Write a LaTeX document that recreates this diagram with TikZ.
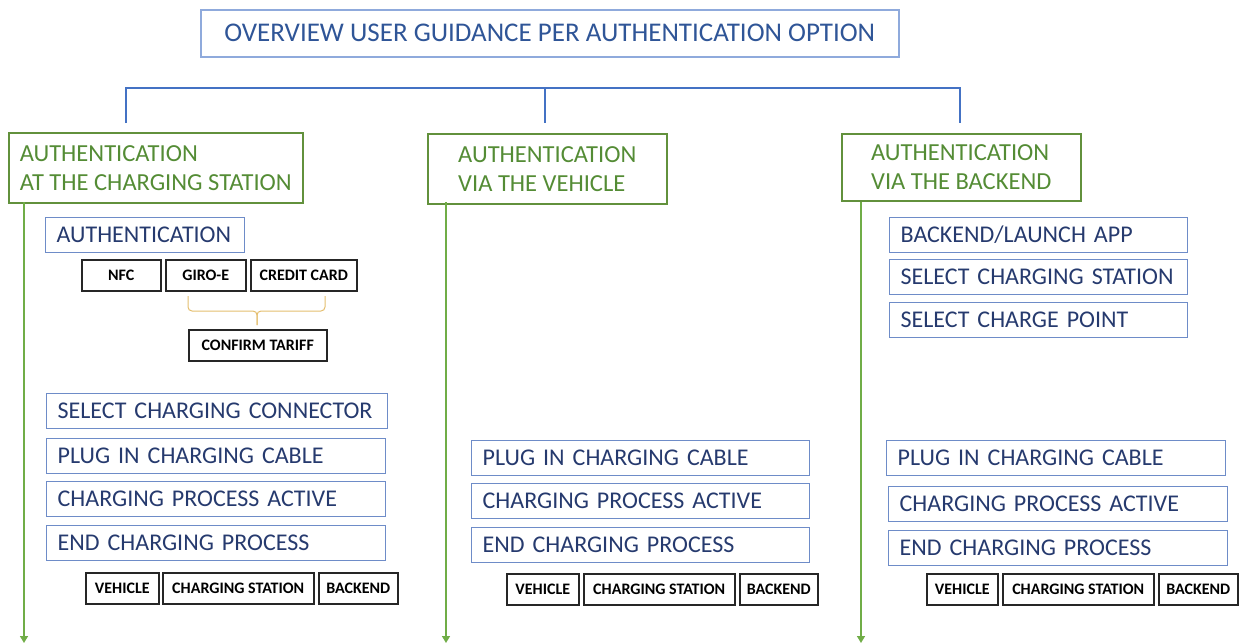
\documentclass[tikz,border=0pt]{standalone}
\usepackage{fontspec}
\setmainfont{Carlito}
\usetikzlibrary{arrows.meta}

\definecolor{titleline}{RGB}{143,170,220}
\definecolor{titletext}{RGB}{47,85,151}
\definecolor{treeblue}{RGB}{68,114,196}
\definecolor{optline}{RGB}{98,145,60}
\definecolor{opttext}{RGB}{84,140,53}
\definecolor{flowgreen}{RGB}{112,173,71}
\definecolor{stepline}{RGB}{110,140,200}
\definecolor{steptext}{RGB}{38,58,110}
\definecolor{bracegold}{RGB}{228,190,110}

\begin{document}
\begin{tikzpicture}
  [x=1pt, y=-1pt,
   titlebox/.style={draw=titleline, line width=1.5pt, text=titletext, anchor=north west,
     inner sep=0pt, font=\fontsize{27}{30}\selectfont},
   optionbox/.style={draw=optline, line width=1.5pt, text=opttext, anchor=north west,
     inner sep=0pt, align=left, minimum height=70pt, font=\fontsize{24.5}{29}\selectfont},
   stepbox/.style={draw=stepline, line width=1.3pt, text=steptext, anchor=north west,
     inner xsep=11pt, inner ysep=0pt, align=left, minimum height=35pt,
     font=\fontsize{24}{26}\selectfont},
   tagbox/.style={draw=black!85, line width=1.5pt, anchor=north west, inner sep=0pt,
     minimum height=31pt, font=\fontsize{16}{18}\selectfont\bfseries},
   treeline/.style={draw=treeblue, line width=1.5pt},
   flowline/.style={draw=flowgreen, line width=1.5pt, -{Triangle[width=8pt,length=7pt]}},
   brace/.style={draw=bracegold, line width=1pt, rounded corners=4pt}]

  \useasboundingbox (0,0) rectangle (1245,643);

  % Title
  \node[titlebox, minimum width=698pt, minimum height=47pt] (title) at (200,9)
    {OVERVIEW USER GUIDANCE PER AUTHENTICATION OPTION};

  % Authentication options
  \node[optionbox, minimum width=294pt] (opt1) at (8,132) {AUTHENTICATION\\AT THE CHARGING STATION};
  \node[optionbox, minimum width=239pt] (opt2) at (427,133) {AUTHENTICATION\\VIA THE VEHICLE};
  \node[optionbox, minimum width=239pt, minimum height=67pt] (opt3) at (841,133) {AUTHENTICATION\\VIA THE BACKEND};

  % Tree
  \coordinate (drop1) at (126,123);
  \coordinate (drop2) at (545,123);
  \coordinate (drop3) at (960,123);
  \coordinate (bar1) at (126,88);
  \coordinate (bar2) at (545,88);
  \coordinate (bar3) at (960,88);
  \draw[treeline] (drop1) -- (bar1) -- (bar3) -- (drop3);
  \draw[treeline] (bar2) -- (drop2);

  % Time axes
  \foreach \n/\x in {1/24, 2/446, 3/861} {
    \coordinate (top\n) at (\x,202);
    \coordinate (bot\n) at (\x,643);
    \draw[flowline] (top\n) -- (bot\n);
  }

  % Column 1: at the charging station
  \node[stepbox, text width=177pt] (auth) at (45,217) {AUTHENTICATION};
  \node[tagbox, minimum width=79pt] (nfc) at (81,259) {NFC};
  \node[tagbox, minimum width=80pt] (giro) at (165,259) {GIRO-E};
  \node[tagbox, minimum width=106pt] (credit) at (250,259) {CREDIT CARD};
  \node[tagbox, minimum width=138pt] (confirm) at (188,329) {CONFIRM TARIFF};
  \coordinate (brl) at (188,296);
  \coordinate (brr) at (325,296);
  \coordinate (brmid) at (257,311);
  \coordinate (brtip) at (257,325);
  \draw[brace] (brl) |- (brmid) -- (brtip);
  \draw[brace] (brr) |- (brmid) -- (brtip);

  \node[stepbox, text width=319pt] (select1) at (46,393) {SELECT CHARGING CONNECTOR};
  \node[stepbox, text width=317pt] (plug1) at (46,438) {PLUG IN CHARGING CABLE};
  \node[stepbox, text width=317pt] (active1) at (46,481) {CHARGING PROCESS ACTIVE};
  \node[stepbox, text width=317pt] (end1) at (46,525) {END CHARGING PROCESS};
  \node[tagbox, minimum width=73pt] (veh1) at (85,572) {VEHICLE};
  \node[tagbox, minimum width=151pt] (cs1) at (162,572) {CHARGING STATION};
  \node[tagbox, minimum width=79pt] (be1) at (318,572) {BACKEND};

  % Column 2: via the vehicle
  \node[stepbox, text width=316pt] (plug2) at (471,440) {PLUG IN CHARGING CABLE};
  \node[stepbox, text width=316pt] (active2) at (471,483) {CHARGING PROCESS ACTIVE};
  \node[stepbox, text width=316pt] (end2) at (471,527) {END CHARGING PROCESS};
  \node[tagbox, minimum width=72pt] (veh2) at (506,573) {VEHICLE};
  \node[tagbox, minimum width=151pt] (cs2) at (583,573) {CHARGING STATION};
  \node[tagbox, minimum width=78pt] (be2) at (739,573) {BACKEND};

  % Column 3: via the backend
  \node[stepbox, text width=276pt] (launch3) at (889,217) {BACKEND/LAUNCH APP};
  \node[stepbox, text width=276pt] (station3) at (889,259) {SELECT CHARGING STATION};
  \node[stepbox, text width=276pt] (point3) at (889,302) {SELECT CHARGE POINT};
  \node[stepbox, text width=317pt] (plug3) at (886,440) {PLUG IN CHARGING CABLE};
  \node[stepbox, text width=317pt] (active3) at (888,486) {CHARGING PROCESS ACTIVE};
  \node[stepbox, text width=317pt] (end3) at (888,530) {END CHARGING PROCESS};
  \node[tagbox, minimum width=71pt] (veh3) at (926,573) {VEHICLE};
  \node[tagbox, minimum width=151pt] (cs3) at (1002,573) {CHARGING STATION};
  \node[tagbox, minimum width=79pt] (be3) at (1158,573) {BACKEND};
\end{tikzpicture}
\end{document}
